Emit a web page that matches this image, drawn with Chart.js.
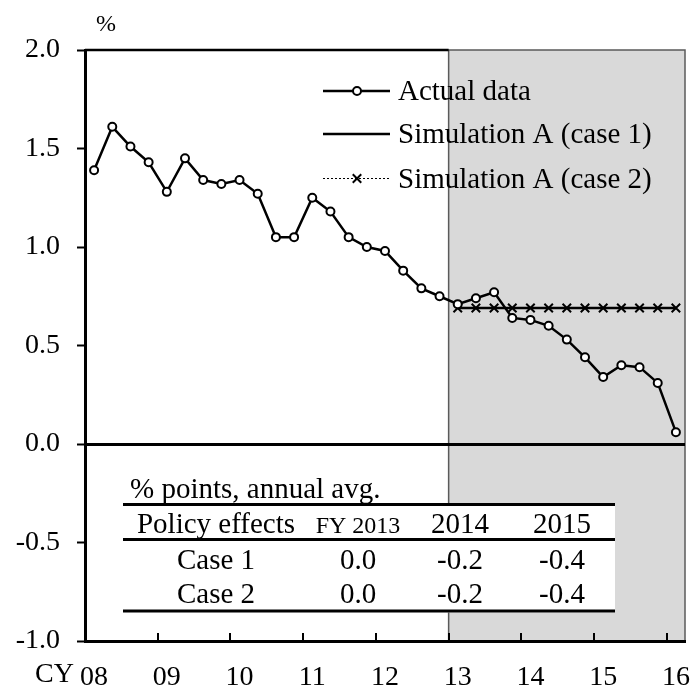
<!DOCTYPE html>
<html>
<head>
<meta charset="utf-8">
<script src="https://cdn.jsdelivr.net/npm/chart.js@4/dist/chart.umd.min.js"></script>
<style>
  html, body { margin: 0; padding: 0; background: #fff; }
  #wrap { width: 693px; height: 686px; }
</style>
</head>
<body>
<div id="wrap"><canvas id="c" width="693" height="686"></canvas></div>
<script>
// ---- data ----
const quarters = [
  "2008Q1","2008Q2","2008Q3","2008Q4",
  "2009Q1","2009Q2","2009Q3","2009Q4",
  "2010Q1","2010Q2","2010Q3","2010Q4",
  "2011Q1","2011Q2","2011Q3","2011Q4",
  "2012Q1","2012Q2","2012Q3","2012Q4",
  "2013Q1","2013Q2","2013Q3","2013Q4",
  "2014Q1","2014Q2","2014Q3","2014Q4",
  "2015Q1","2015Q2","2015Q3","2015Q4",
  "2016Q1"
];
const yearTickLabels = ["08","09","10","11","12","13","14","15","16"];
const actualData = [
  1.39, 1.61, 1.51, 1.43,
  1.28, 1.45, 1.34, 1.32,
  1.34, 1.27, 1.05, 1.05,
  1.25, 1.18, 1.05, 1.00,
  0.98, 0.88, 0.79, 0.75,
  0.71, 0.74, 0.77, 0.64,
  0.63, 0.60, 0.53, 0.44,
  0.34, 0.40, 0.39, 0.31,
  0.06
];
const simCase1 = [
  null, null, null, null,
  null, null, null, null,
  null, null, null, null,
  null, null, null, null,
  null, null, null, null,
  0.69, 0.69, 0.69, 0.69,
  0.69, 0.69, 0.69, 0.69,
  0.69, 0.69, 0.69, 0.69,
  0.69
];
const simCase2 = [
  null, null, null, null,
  null, null, null, null,
  null, null, null, null,
  null, null, null, null,
  null, null, null, null,
  0.69, 0.69, 0.69, 0.69,
  0.69, 0.69, 0.69, 0.69,
  0.69, 0.69, 0.69, 0.69,
  0.69
];
const seriesNames = ["Actual data", "Simulation A (case 1)", "Simulation A (case 2)"];
const projectionStart = "2013Q1";
const tableTitle = "% points, annual avg.";
const tableHeader = ["Policy effects", "FY 2013", "2014", "2015"];
const tableRowNames = ["Case 1", "Case 2"];
const tableCase1 = [0.0, -0.2, -0.4];
const tableCase2 = [0.0, -0.2, -0.4];

const FONT = "'Liberation Serif', 'Times New Roman', serif";

const overlayPlugin = {
  id: 'overlay',
  beforeDraw(chart) {
    const {ctx, chartArea: a, scales: {x}} = chart;
    const step = x.getPixelForValue(1) - x.getPixelForValue(0);
    const sx = x.getPixelForValue(quarters.indexOf(projectionStart)) - step / 2;
    ctx.save();
    ctx.fillStyle = '#d9d9d9';
    ctx.fillRect(sx, a.top, a.right - sx, a.bottom - a.top);
    ctx.strokeStyle = '#5a5a5a';
    ctx.lineWidth = 1.5;
    ctx.strokeRect(sx, a.top, a.right - sx, a.bottom - a.top);
    ctx.strokeStyle = '#000';
    ctx.lineWidth = 2.5;
    ctx.beginPath();
    ctx.moveTo(a.left, a.top);
    ctx.lineTo(sx, a.top);
    ctx.stroke();
    ctx.restore();
  },
  afterDraw(chart) {
    const {ctx, chartArea: a, scales: {x}} = chart;
    const step = x.getPixelForValue(1) - x.getPixelForValue(0);
    ctx.save();
    // inward year tick marks on x axis
    ctx.strokeStyle = '#000';
    ctx.lineWidth = 2;
    for (let i = 4; i < quarters.length; i += 4) {
      const px = Math.round(x.getPixelForValue(i) - step / 2);
      ctx.beginPath();
      ctx.moveTo(px, a.bottom);
      ctx.lineTo(px, a.bottom - 8);
      ctx.stroke();
    }
    // unit labels
    ctx.fillStyle = '#000';
    ctx.textBaseline = 'alphabetic';
    ctx.font = "24px " + FONT;
    ctx.textAlign = 'center';
    ctx.fillText('%', 106, 31);
    ctx.font = "28px " + FONT;
    ctx.textAlign = 'left';
    ctx.fillText('CY', 35, 682);

    // legend
    const rows = [91, 134, 178.5];
    const lx1 = 323, lx2 = 390, mx = 357, tx = 398;
    chart.data.datasets.forEach((ds, i) => {
      const ry = rows[i];
      ctx.save();
      ctx.strokeStyle = ds.borderColor;
      ctx.lineWidth = ds.borderWidth;
      ctx.setLineDash(ds.borderDash || []);
      ctx.beginPath();
      ctx.moveTo(lx1, ry);
      ctx.lineTo(lx2, ry);
      ctx.stroke();
      ctx.setLineDash([]);
      if (ds.pointRadius > 0) {
        ctx.fillStyle = ds.pointBackgroundColor;
        ctx.strokeStyle = ds.pointBorderColor;
        ctx.lineWidth = ds.pointBorderWidth;
        Chart.helpers.drawPoint(ctx, {
          pointStyle: ds.pointStyle, radius: ds.pointRadius,
          borderWidth: ds.pointBorderWidth, rotation: 0
        }, mx, ry);
      }
      ctx.restore();
      ctx.fillStyle = '#000';
      ctx.font = "29px " + FONT;
      ctx.textAlign = 'left';
      ctx.textBaseline = 'alphabetic';
      ctx.fillText(ds.label, tx, ry + 9);
    });

    // table
    const tL = 123, tR = 615;
    const l1 = 504.5, l2 = 539.5, l3 = 611;
    ctx.fillStyle = '#fff';
    ctx.fillRect(tL, l1 - 1.5, tR - tL, l3 - l1 + 3);
    ctx.strokeStyle = '#000';
    ctx.lineWidth = 3;
    [l1, l2, l3].forEach(ly => {
      ctx.beginPath(); ctx.moveTo(tL, ly); ctx.lineTo(tR, ly); ctx.stroke();
    });
    ctx.fillStyle = '#000';
    ctx.font = "29px " + FONT;
    ctx.textAlign = 'left';
    ctx.fillText(tableTitle, 130, 497.5);
    const colX = [216, 358, 460, 562];
    ctx.textAlign = 'center';
    ctx.fillText(tableHeader[0], colX[0], 532.5);
    for (let j = 1; j < tableHeader.length; j++) {
      ctx.font = (j === 1 ? "24px " : "29px ") + FONT;
      ctx.fillText(tableHeader[j], colX[j], 532.5);
    }
    ctx.font = "29px " + FONT;
    const rowsY = [568.5, 602.5];
    [tableCase1, tableCase2].forEach((vals, r) => {
      ctx.fillText(tableRowNames[r], colX[0], rowsY[r]);
      vals.forEach((v, j) => ctx.fillText(v.toFixed(1), colX[j + 1], rowsY[r]));
    });
    ctx.restore();
  }
};

new Chart(document.getElementById('c'), {
  type: 'line',
  data: {
    labels: quarters,
    datasets: [
      {
        label: seriesNames[0], data: actualData,
        borderColor: '#000', borderWidth: 2.5,
        pointStyle: 'circle', pointRadius: 4, pointBorderWidth: 2,
        pointBackgroundColor: '#fff', pointBorderColor: '#000',
        tension: 0, spanGaps: false
      },
      {
        label: seriesNames[1], data: simCase1,
        borderColor: '#000', borderWidth: 2.5,
        pointRadius: 0, tension: 0
      },
      {
        label: seriesNames[2], data: simCase2,
        borderColor: '#000', borderWidth: 1, borderDash: [2, 2],
        pointStyle: 'crossRot', pointRadius: 6, pointBorderWidth: 2,
        pointBackgroundColor: '#000', pointBorderColor: '#000',
        tension: 0
      }
    ]
  },
  options: {
    responsive: false,
    animation: false,
    devicePixelRatio: 1,
    layout: { padding: { top: 50, right: 8, left: 0, bottom: 0 } },
    plugins: { legend: { display: false }, tooltip: { enabled: false } },
    scales: {
      x: {
        type: 'category',
        offset: true,
        grid: { display: false, drawTicks: false },
        border: { display: true, color: '#000', width: 3 },
        ticks: {
          autoSkip: false, maxRotation: 0, minRotation: 0, padding: 20,
          color: '#000',
          font: { family: FONT, size: 28 },
          callback: (v, i) => (i % 4 === 0 ? yearTickLabels[i / 4] : '')
        },
        afterFit: s => { s.height = 45; s.paddingLeft = 0; s.paddingRight = 0; }
      },
      y: {
        min: -1, max: 2,
        ticks: {
          stepSize: 0.5, padding: 17, color: '#000',
          font: { family: FONT, size: 28 },
          callback: v => Number(v).toFixed(1)
        },
        grid: {
          drawOnChartArea: true,
          color: c => (c.tick && c.tick.value === 0 ? '#000' : 'rgba(0,0,0,0)'),
          lineWidth: 3,
          tickColor: '#000', tickWidth: 2, tickLength: 8
        },
        border: { display: true, color: '#000', width: 3 },
        afterFit: s => { s.width = 85; s.paddingTop = 0; s.paddingBottom = 0; }
      }
    }
  },
  plugins: [overlayPlugin]
});
</script>
</body>
</html>
